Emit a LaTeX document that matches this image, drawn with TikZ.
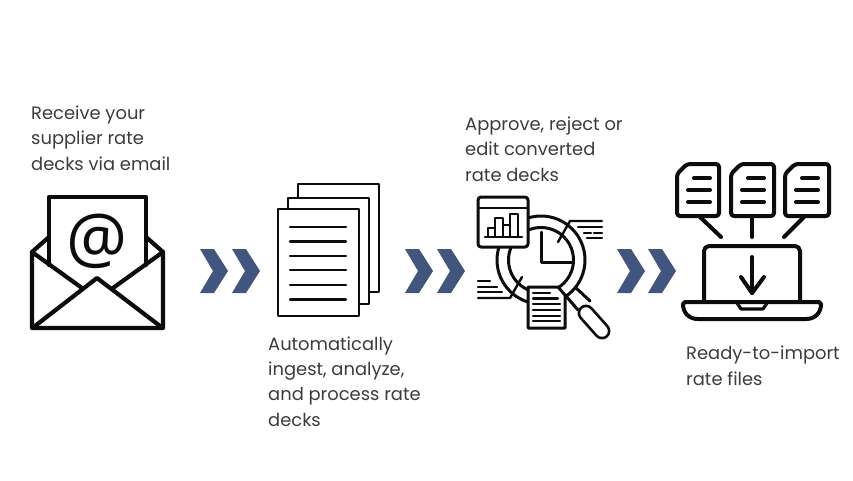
\documentclass[tikz,border=0pt]{standalone}
\usepackage{fontspec}
\setmainfont{Poppins}
\newfontfamily\atfont{Open Sans}
\definecolor{ink}{HTML}{0C0C0C}
\definecolor{txt}{HTML}{3C3C3C}
\definecolor{chev}{HTML}{42557C}
\tikzset{
 lab/.style={anchor=base west,inner sep=0pt,text=txt,font=\fontsize{17.9}{25.2}\selectfont,align=left},
 ic/.style={draw=ink,line join=round,line cap=round},
}
\newcommand{\chevat}[1]{%
 \fill[chev] (#1,249) -- ++(14,0) -- ++(14,22) -- ++(-14,22) -- ++(-14,0) -- ++(13,-22) -- cycle;
}
\begin{document}
\begin{tikzpicture}[x=1pt,y=-1pt]
\useasboundingbox (0,0) rectangle (853,480);
\fill[white] (0,0) rectangle (853,480);
% texts (anchored on the last line's baseline)
\node[lab] (t1) at (31,170) {Receive your\\supplier rate\\decks via email};
\node[lab] (t2) at (268,426) {Automatically\\ingest, analyze,\\and process rate\\decks};
\node[lab] (t3) at (465,181) {Approve, reject or\\edit converted\\rate decks};
\node[lab] (t4) at (686,385) {Ready-to-import\\rate files};
% envelope
\draw[ic,line width=4.2pt,fill=white] (32,252) -- (49,237) -- (146,237) -- (163,252);
\draw[ic,line width=4.2pt,fill=white] (49,265) -- (49,197) -- (146,197) -- (146,265);
\node[inner sep=0pt,text=ink] (at) at (97,241) {\atfont\fontsize{68}{68}\selectfont @};
\draw[ic,line width=4.2pt] (82,288) -- (32,252) -- (32,328) -- (163,328) -- (163,252) -- (113,288);
\draw[ic,line width=4.2pt] (35,326) -- (97,278) -- (160,326);
% chevrons
\chevat{200}\chevat{232}
\chevat{405}\chevat{437}
\chevat{617}\chevat{648}
% documents
\draw[ic,line width=2.7pt,line cap=butt,fill=white] (298,198) -- (298,184) -- (379,184) -- (379,292) -- (369,292);
\draw[ic,line width=2.7pt,line cap=butt,fill=white] (288,209) -- (288,198) -- (369,198) -- (369,304) -- (359,304);
\draw[ic,line width=2.7pt,fill=white] (278,209) rectangle (359,316);
\foreach \y in {227,241.5,256,270,285,299.5}
  \draw[ic,line width=2.1pt] (290,\y) -- (346,\y);
% magnifier
\draw[ic,line width=3pt] (541,260) circle (44);
\draw[ic,line width=3pt] (541,260) circle (32.5);
\draw[ic,line width=3pt] (541,232) -- (541,262) -- (573,262);
\draw[ic,line width=3pt] (566,296) -- (578,310);
\draw[ic,line width=3pt] (576,288) -- (590,301);
\draw[ic,line width=17pt] (586,313) -- (602,331);
\draw[draw=white,line cap=round,line width=11.5pt] (586,313) -- (602,331);
% callouts
\draw[ic,line width=2.4pt] (558,242) -- (570,221) -- (602,221);
\draw[ic,line width=2.4pt] (578,227) -- (602,227);
\draw[ic,line width=2.4pt] (584,233) -- (591,233) (594,233) -- (602,233);
\draw[ic,line width=2.4pt] (587,238) -- (602,238);
\draw[ic,line width=2.4pt] (522,277) -- (510,298) -- (478,298);
\draw[ic,line width=2.4pt] (478,292) -- (502,292);
\draw[ic,line width=2.4pt] (478,287) -- (497,287);
\draw[ic,line width=2.4pt] (478,281) -- (490,281);
% chart card
\draw[ic,line width=3pt,fill=white,rounded corners=3pt] (478,197) rectangle (528,247);
\draw[ic,line width=2.4pt] (478,208) -- (528,208);
\draw[ic,line width=2.4pt] (485,237) -- (522,237);
\draw[ic,line width=2.4pt] (488,237) -- (488,228) -- (495,228) -- (495,237);
\draw[ic,line width=2.4pt] (495,228) -- (495,218) -- (503,218) -- (503,237);
\draw[ic,line width=2.4pt] (503,225) -- (510,225) -- (510,237);
\draw[ic,line width=2.4pt] (510,225) -- (510,214) -- (518,214) -- (518,237);
% small doc
\draw[ic,line width=3pt,fill=white] (528,287) -- (558,287) -- (565,295) -- (565,328) -- (528,328) -- cycle;
\draw[ic,line width=2.2pt] (533,293) -- (550,293);
\draw[ic,line width=2.2pt] (533,298.5) -- (558,298.5);
\draw[ic,line width=2.2pt] (533,304) -- (560,304);
\draw[ic,line width=2.2pt] (533,310) -- (560,310);
\draw[ic,line width=2.2pt] (533,316) -- (560,316);
\draw[ic,line width=2.2pt] (533,321) -- (560,321);
% laptop & files
\foreach \xa/\xb in {677/719,731/774,785/829}{
 \draw[ic,line width=4pt,rounded corners=3pt] (\xa,174) -- (\xa+10,164) -- (\xb,164) -- (\xb,216) -- (\xa,216) -- cycle;
 \draw[ic,line width=4pt] (\xa+17,178) -- (\xa+33,178);
 \draw[ic,line width=4pt] (\xa+11,190) -- (\xa+33,190);
 \draw[ic,line width=4pt] (\xa+11,202) -- (\xa+33,202);
}
\draw[ic,line width=4pt] (700,217) -- (721,237);
\draw[ic,line width=4pt] (752,217) -- (752,237);
\draw[ic,line width=4pt] (804,217) -- (784,237);
\draw[ic,line width=4pt,rounded corners=5pt] (704,302) -- (704,246) -- (800,246) -- (800,302);
\draw[ic,line width=4pt] (685,302) -- (819,302) -- (821,304) arc[start angle=0,end angle=90,radius=0pt] (821,304) .. controls (821,313) and (815,319) .. (806,319) -- (698,319) .. controls (689,319) and (683,313) .. (683,304) -- (685,302);
\draw[ic,line width=3.2pt] (737,303) -- (741,309) -- (763,309) -- (767,303);
\draw[ic,line width=4pt] (752,257) -- (752,293);
\draw[ic,line width=4pt] (741,277) -- (752,293) -- (764,277);
\end{tikzpicture}
\end{document}
